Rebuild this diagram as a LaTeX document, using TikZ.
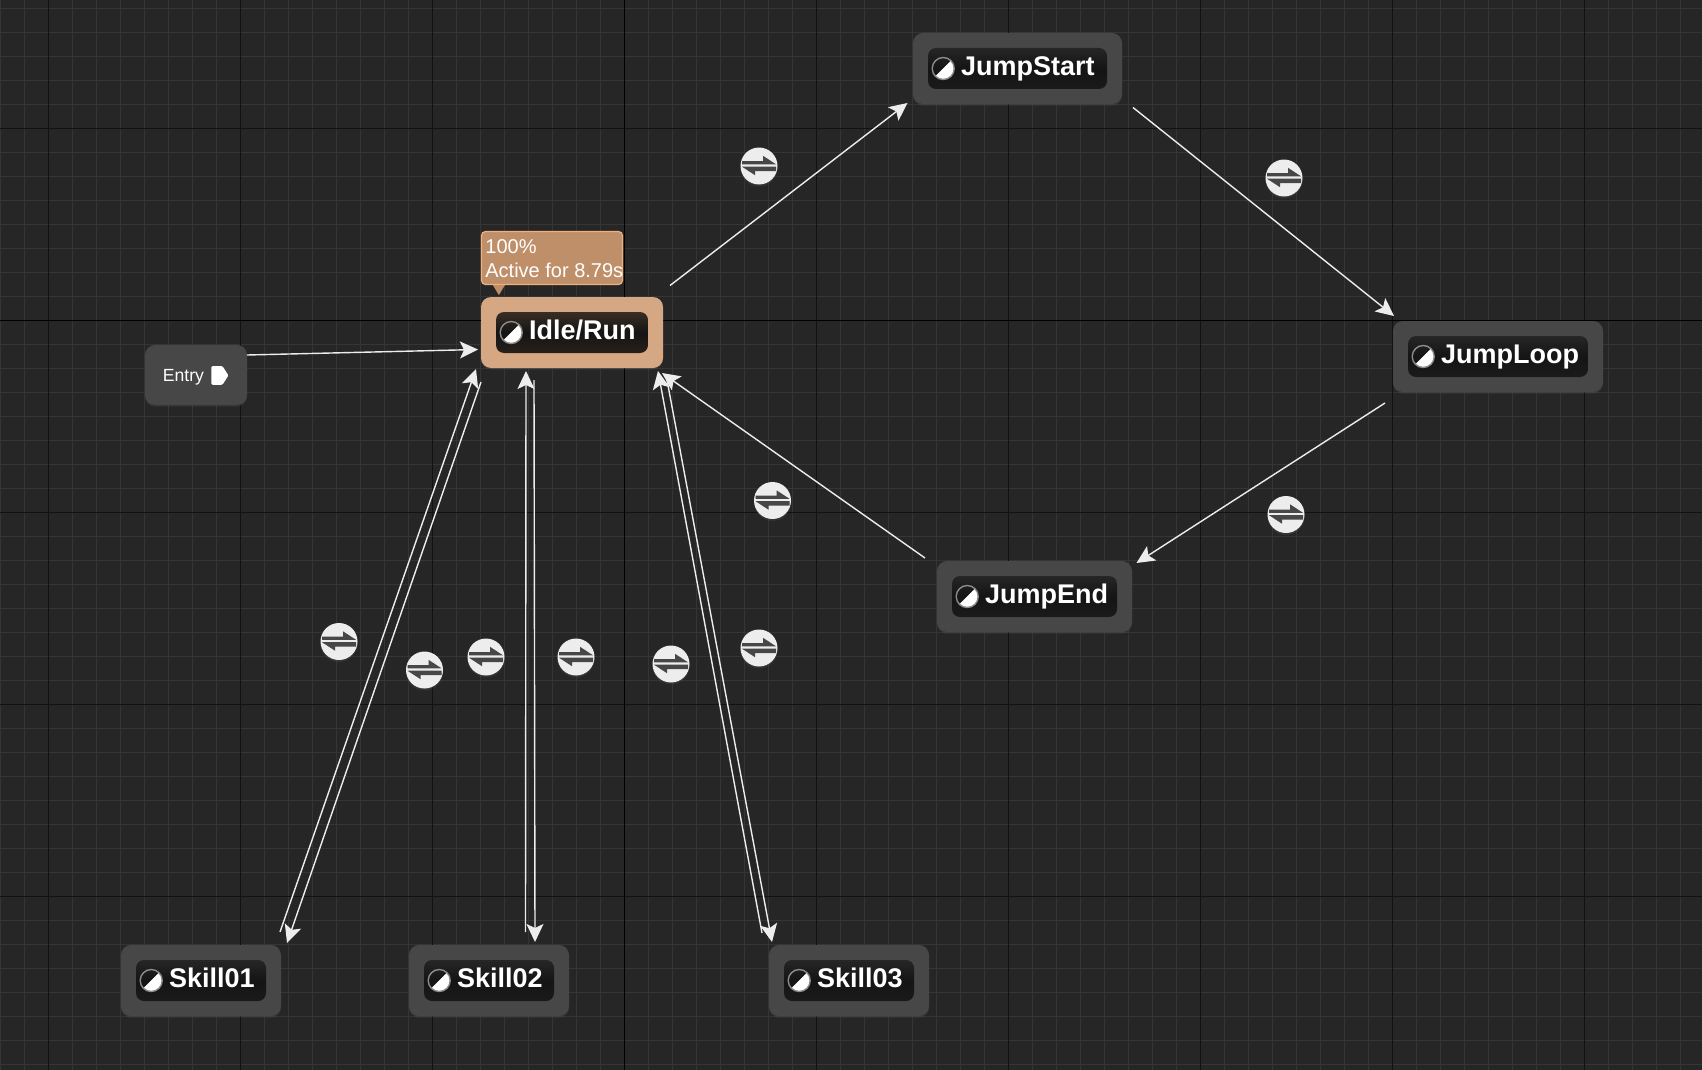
\documentclass[tikz,border=0pt]{standalone}
\usepackage{fontspec}
\setmainfont{Liberation Sans}
\usetikzlibrary{arrows.meta}
\usetikzlibrary{shadows}
\definecolor{graphbg}{HTML}{262626}
\definecolor{gridminor}{HTML}{353535}
\definecolor{gridmajor}{HTML}{121212}
\definecolor{boxgrey}{HTML}{474747}
\definecolor{activebox}{HTML}{D5A883}
\definecolor{tipfill}{HTML}{BF8F69}
\definecolor{tipedge}{HTML}{F0B07C}
\definecolor{wirewhite}{HTML}{EDEDED}
\definecolor{pillgrey}{HTML}{262626}
\definecolor{pillbrown}{HTML}{3A2E24}
\tikzset{>={Stealth[length=9pt,width=8.5pt,inset=2pt]}}
\tikzset{statebox/.style={rounded corners=5pt, inner sep=0pt, fill=#1,
    drop shadow={opacity=0.15, shadow xshift=0pt, shadow yshift=-0.8pt}}}
\tikzset{statepill/.style={rounded corners=4pt, inner sep=0pt, minimum height=20.5pt,
    top color=#1, bottom color=#1!70!black, middle color=black!92!white}}
\tikzset{statelabel/.style={anchor=base west, inner sep=0pt, text=white, font=\bfseries\fontsize{13.5}{15}\selectfont}}
\tikzset{stateicon/.style={circle, minimum size=11pt, inner sep=0pt, draw=black!45!white, line width=0.7pt,
    path picture={\fill[white] (path picture bounding box.north east) -- (path picture bounding box.south east)
      -- (path picture bounding box.south west) -- cycle;}}}
\tikzset{wire/.style={draw=wirewhite, line width=0.7pt, ->}}
\tikzset{transbtn/.style={circle, minimum size=18.5pt, inner sep=0pt, fill=white!93!black,
    drop shadow={opacity=0.15, shadow xshift=0pt, shadow yshift=-1pt},
    path picture={
      \fill[graphbg!85!white, shift={(path picture bounding box.center)}]
        (-8.5pt,0.85pt) -- (-8.5pt,2.5pt) -- (2pt,2.5pt) -- (2pt,5.1pt) -- (8.5pt,0.85pt) -- cycle
        (8.5pt,-0.35pt) -- (8.5pt,-2.5pt) -- (-2pt,-2.5pt) -- (-2pt,-4.6pt) -- (-8.5pt,-0.35pt) -- cycle;
    }}}
\begin{document}
\begin{tikzpicture}[x=0.5pt, y=-0.5pt]
\useasboundingbox (0,0) rectangle (1702,1070);
\fill[graphbg] (0,0) rectangle (1702,1070);

% grid
\foreach \x in {0,24,...,1700} \draw[gridminor, line width=0.5pt] (\x+0.5,0) -- (\x+0.5,1070);
\foreach \y in {8,32,...,1070} \draw[gridminor, line width=0.5pt] (0,\y+0.5) -- (1702,\y+0.5);
\foreach \x in {48,240,...,1700} \draw[gridmajor, line width=0.6pt] (\x+0.5,0) -- (\x+0.5,1070);
\foreach \y in {128,320,...,1070} \draw[gridmajor, line width=0.6pt] (0,\y+0.5) -- (1702,\y+0.5);
\draw[black, line width=0.7pt] (624.5,0) -- (624.5,1070);
\draw[black, line width=0.7pt] (0,320.5) -- (1702,320.5);

% states
\foreach \name/\cx/\cy/\boxw/\colr/\pillc/\txt in {
  idle/572/332.5/182/activebox/pillbrown/Idle{/}Run,
  jumpstart/1017.5/68.5/209/boxgrey/pillgrey/JumpStart,
  jumploop/1498/356.5/210/boxgrey/pillgrey/JumpLoop,
  jumpend/1034.5/596.5/195/boxgrey/pillgrey/JumpEnd,
  skillone/201/980.5/160/boxgrey/pillgrey/Skill01,
  skilltwo/489/980.5/160/boxgrey/pillgrey/Skill02,
  skillthree/849/980.5/160/boxgrey/pillgrey/Skill03}
{
  \node[statebox=\colr, minimum width=\boxw*0.5pt, minimum height=35.5pt] (\name) at (\cx,\cy) {};
  \node[statepill=\pillc, minimum width=\boxw*0.5pt-15pt] (\name-pill) at (\cx,\cy) {};
  \node[stateicon] (\name-icon) at ([xshift=7.8pt]\name-pill.west) {};
  \node[statelabel] (\name-label) at ([shift={(16.5pt,-3.4pt)}]\name-pill.west) {\txt};
}

% entry
\node[statebox=boxgrey, minimum width=51pt, minimum height=30pt] (entry) at (196,375) {};
\node[text=white, inner sep=0pt, font=\fontsize{8.8}{10}\selectfont] (entry-label) at (183.5,377) {Entry};
\fill[white, rounded corners=0.6pt] ([shift={(3.5pt,5.5pt)}]entry-label.east) -- ++(5.5pt,0) -- ++(3pt,-4.7pt)
  -- ++(-3pt,-4.7pt) -- ++(-5.5pt,0) -- cycle;

% progress tip
\node[rounded corners=2pt, fill=tipfill, draw=tipedge, line width=0.6pt, minimum width=70.5pt, minimum height=26.5pt,
  inner sep=0pt] (tip) at (552,258) {};
\fill[tipfill] ([xshift=6pt]tip.south west) -- ([xshift=12pt]tip.south west) -- ([shift={(9pt,-5pt)}]tip.south west) -- cycle;
\node[anchor=north west, align=left, inner sep=0pt, text=white, font=\fontsize{10}{12}\selectfont]
  (tip-label) at (485,239) {100\%\\Active for 8.79s};

% transitions
\draw[wire] ([shift={(51,-20)}]entry.center) -- ([shift={(-94,17)}]idle.center);
\draw[wire] ([shift={(98,-47)}]idle.center) -- ([shift={(-110,34.5)}]jumpstart.center);
\draw[wire] ([shift={(115.5,39)}]jumpstart.center) -- ([shift={(-104,-40.5)}]jumploop.center);
\draw[wire] ([shift={(-113,46.5)}]jumploop.center) -- ([shift={(102,-33.5)}]jumpend.center);
\draw[wire] ([shift={(-109.5,-38.5)}]jumpend.center) -- ([shift={(90,40.5)}]idle.center);
\draw[wire] ([shift={(79,-48.5)}]skillone.center) -- ([shift={(-96,36.5)}]idle.center);
\draw[wire] ([shift={(-91,49.5)}]idle.center) -- ([shift={(86,-37.5)}]skillone.center);
\draw[wire] ([shift={(36.5,-48.5)}]skilltwo.center) -- ([shift={(-46,38.5)}]idle.center);
\draw[wire] ([shift={(-38,47.5)}]idle.center) -- ([shift={(46,-38.5)}]skilltwo.center);
\draw[wire] ([shift={(-87,-47.5)}]skillthree.center) -- ([shift={(86,38.5)}]idle.center);
\draw[wire] ([shift={(95,47.5)}]idle.center) -- ([shift={(-77,-38.5)}]skillthree.center);

\foreach \name/\cx/\cy in {
  tstart/759/166, tloop/1284/178, tend/1286/514.5, tback/772.5/500.5,
  tskillb/339/641.5, tskilla/424.5/670, tskilld/486/657, tskillc/576/657,
  tskillf/671/664, tskille/759/648}
{
  \node[transbtn] (\name) at (\cx,\cy) {};
}
\end{tikzpicture}
\end{document}
